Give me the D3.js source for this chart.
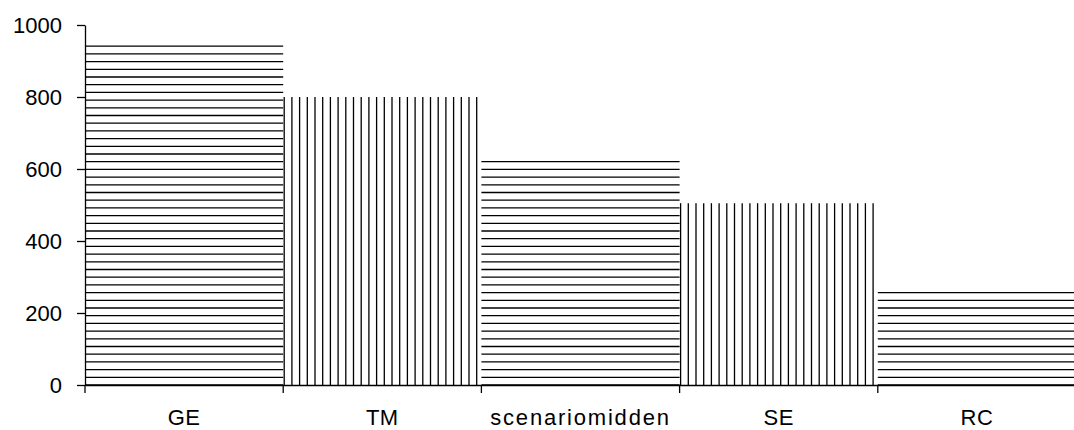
<!DOCTYPE html>
<html>
<head>
<meta charset="utf-8">
<script src="https://cdn.jsdelivr.net/npm/d3@7"></script>
<style>
    html, body { margin: 0; padding: 0; background: #fff; }
    svg text { font-family: "Liberation Sans", Arial, sans-serif; font-size: 22px; fill: #000; }
</style>
</head>
<body>
<div id="chart"></div>
<script>
"use strict";

// chart data
var categories = ["GE", "TM", "scenariomidden", "SE", "RC"];
var values = [940, 800, 620, 505, 255];
var hatches = ["h", "v", "h", "v", "h"];
var yTicks = [0, 200, 400, 600, 800, 1000];

(function () {
    var width = 1074, height = 430;
    var gap = 7.7;

    var svg = d3.select("#chart").append("svg")
        .attr("width", width).attr("height", height);

    var x = d3.scaleBand().domain(categories).range([85, 1076]).padding(0);
    var y = d3.scaleLinear().domain([0, 1000]).range([385, 25]);

    var bars = svg.append("g").attr("class", "bars")
        .selectAll("g").data(categories).enter().append("g");

    bars.each(function (c, i) {
        var g = d3.select(this);
        var x0 = x(c), bw = x.bandwidth();
        var top = y(values[i]);
        if (hatches[i] === "h") {
            g.selectAll("line").data(d3.range(y(0), top - 1, -gap)).enter().append("line")
                .attr("x1", x0).attr("x2", x0 + bw)
                .attr("y1", function (d) { return d; }).attr("y2", function (d) { return d; })
                .attr("stroke", "#000").attr("stroke-width", 1.3);
        } else {
            g.selectAll("line").data(d3.range(x0 + 1, x0 + bw, gap)).enter().append("line")
                .attr("x1", function (d) { return d; }).attr("x2", function (d) { return d; })
                .attr("y1", y(0)).attr("y2", top)
                .attr("stroke", "#000").attr("stroke-width", 1.3);
        }
    });

    // y axis
    var yAxis = svg.append("g").attr("transform", "translate(85,0)")
        .call(d3.axisLeft(y).tickValues(yTicks).tickFormat(d3.format("d")).tickSize(8).tickSizeOuter(0).tickPadding(15));
    yAxis.select(".domain").attr("stroke", "#000").attr("stroke-width", 1.3);
    yAxis.selectAll(".tick line").attr("stroke", "#000").attr("stroke-width", 1.3);
    yAxis.attr("font-size", null).attr("font-family", null);

    // x axis, labels centred in bands
    var xAxis = svg.append("g").attr("transform", "translate(0,385)")
        .call(d3.axisBottom(x).tickSize(0).tickSizeOuter(0).tickPadding(24));
    xAxis.select(".domain").attr("stroke", "#000").attr("stroke-width", 1.3);
    xAxis.attr("font-size", null).attr("font-family", null);
    xAxis.selectAll("text").style("letter-spacing", function (d) { return d.length > 4 ? "1.8px" : "0.5px"; });

    // boundary ticks between bands
    var edges = categories.map(function (c) { return x(c); }).concat([x.range()[1]]);
    xAxis.selectAll(".edge").data(edges).enter().append("line")
        .attr("class", "edge")
        .attr("x1", function (d) { return d; }).attr("x2", function (d) { return d; })
        .attr("y1", 0).attr("y2", 8)
        .attr("stroke", "#000").attr("stroke-width", 1.3);
})();
</script>
</body>
</html>
